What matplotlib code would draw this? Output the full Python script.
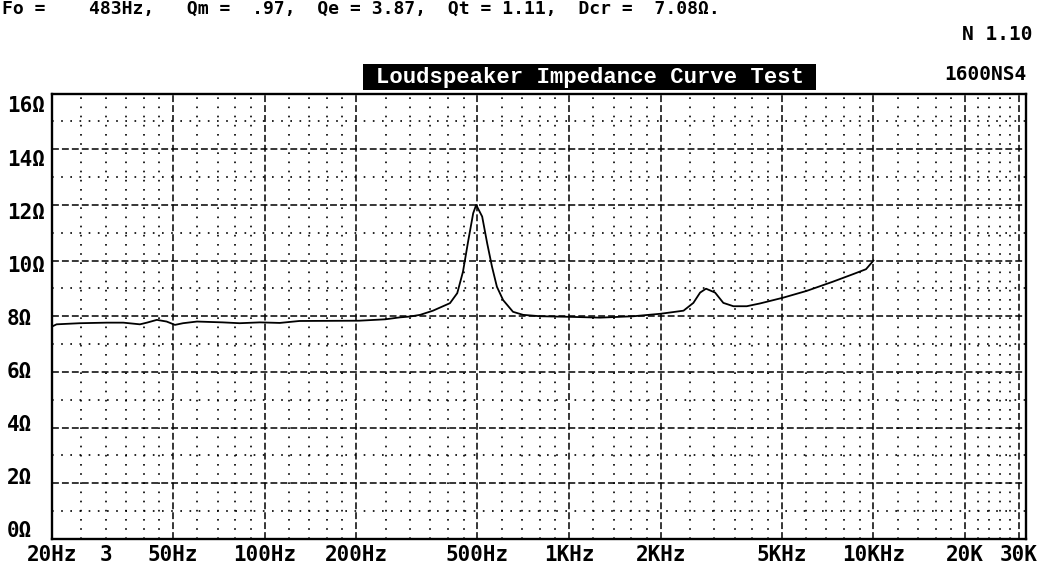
import matplotlib
matplotlib.use("Agg")
import matplotlib.pyplot as plt
from matplotlib.transforms import ScaledTranslation
from matplotlib.patches import Rectangle

# ---- data ----
freq_hz = [20, 20.7, 24.7, 30.3, 34.3, 38.9, 41, 44.2, 47.6, 50.7, 53.9, 59.9,
           72.7, 82.7, 96.5, 112, 130, 204, 249, 278, 300, 324, 357, 406, 429,
           448, 466, 484, 495, 518, 538, 558, 579, 607, 654, 706, 804, 1000,
           1264, 1626, 2000, 2376, 2560, 2694, 2817, 3017, 3211, 3466, 3833,
           4239, 5060, 6030, 7350, 8560, 9450, 10000]
impedance_ohm = [7.63, 7.71, 7.75, 7.77, 7.77, 7.71, 7.77, 7.87, 7.81, 7.69,
                 7.75, 7.81, 7.78, 7.75, 7.78, 7.76, 7.83, 7.84, 7.89, 7.96,
                 7.99, 8.05, 8.2, 8.47, 8.83, 9.6, 10.7, 11.7, 12.0, 11.58,
                 10.62, 9.78, 9.06, 8.58, 8.16, 8.05, 8.0, 7.98, 7.95, 8.0,
                 8.09, 8.2, 8.48, 8.85, 8.99, 8.85, 8.48, 8.36, 8.36, 8.46,
                 8.67, 8.91, 9.24, 9.51, 9.69, 10.0]

x_tick_values = [20, 30, 50, 100, 200, 500, 1000, 2000, 5000, 10000, 20000, 30000]
x_tick_labels = ["20Hz", "3", "50Hz", "100Hz", "200Hz", "500Hz", "1KHz",
                 "2KHz", "5KHz", "10KHz", "20K", "30K"]
y_tick_values = [0, 2, 4, 6, 8, 10, 12, 14, 16]
y_tick_labels = ["0Ω", "2Ω", "4Ω", "6Ω", "8Ω", "10Ω", "12Ω", "14Ω", "16Ω"]

x_major_grid = [50, 100, 200, 500, 1000, 2000, 5000, 10000, 20000, 30000]
x_minor_grid = [25, 30, 35, 40, 45, 60, 70, 80, 90, 120, 140, 160, 180,
                250, 300, 350, 400, 450, 600, 700, 800, 900,
                1200, 1400, 1600, 1800, 2500, 3000, 3500, 4000, 4500,
                6000, 7000, 8000, 9000, 12000, 14000, 16000, 18000,
                22000, 24000, 26000, 28000]
y_major_grid = [2, 4, 6, 8, 10, 12, 14]
y_minor_grid = [1, 3, 5, 7, 9, 11, 13, 15]

title_text = "Loudspeaker Impedance Curve Test"
model_text = "1600NS4"
version_text = "N 1.10"
params_text = "Fo =    483Hz,   Qm =  .97,  Qe = 3.87,  Qt = 1.11,  Dcr =  7.08Ω."

# ---- figure ----
W, H, DPI = 1050, 567, 100
fig = plt.figure(figsize=(W / DPI, H / DPI), dpi=DPI)
fig.patch.set_facecolor("white")

ax_l, ax_r, ax_t, ax_b = 52, 1026, 93.5, 539
ax = fig.add_axes([ax_l / W, 1 - ax_b / H, (ax_r - ax_l) / W, (ax_b - ax_t) / H])
ax.set_xscale("log")
ax.set_xlim(20, 31700)
ax.set_ylim(0, 16)

dash_major = (0, (4.5, 2.0))
dot_minor = (0, (1.0, 4.5))
for f in x_major_grid:
    ax.axvline(f, color="black", lw=1.1, linestyle=dash_major, zorder=1)
for f in x_minor_grid:
    ax.axvline(f, color="black", lw=1.2, linestyle=dot_minor, zorder=1)
for v in y_major_grid:
    ax.axhline(v, color="black", lw=1.1, linestyle=dash_major, zorder=1)
for v in y_minor_grid:
    ax.axhline(v, color="black", lw=1.2, linestyle=dot_minor, zorder=1)

ax.plot(freq_hz, impedance_ohm, color="black", lw=1.3, zorder=3)

for s in ax.spines.values():
    s.set_color("black")
    s.set_linewidth(1.7)

tick_font = dict(family="DejaVu Sans Mono", weight="bold", size=15)
ax.set_xticks(x_tick_values)
ax.set_xticklabels(x_tick_labels, **tick_font)
ax.minorticks_off()
ax.set_yticks(y_tick_values)
ax.set_yticklabels(y_tick_labels, **tick_font)
ax.tick_params(axis="x", length=0, pad=4)
ax.tick_params(axis="y", length=0, pad=0)

for lab, v in zip(ax.get_yticklabels(), y_tick_values):
    lab.set_horizontalalignment("left")
    dy_px = 11 - (16 - v) / 2 * 2.65
    lab.set_transform(lab.get_transform() +
                      ScaledTranslation(-(ax_l - 7) / DPI, -dy_px / DPI,
                                        fig.dpi_scale_trans))

# title box
bx0, bx1, by0, by1 = 363, 816, 64, 90
fig.patches.append(Rectangle((bx0 / W, 1 - by1 / H), (bx1 - bx0) / W,
                             (by1 - by0) / H, transform=fig.transFigure,
                             facecolor="black", edgecolor="none"))
fig.text((bx0 + bx1) / 2 / W, 1 - 77.5 / H, title_text, color="white",
         ha="center", va="center", family="Liberation Mono", weight="bold",
         size=16)
fig.text(1027 / W, 1 - 75 / H, model_text, ha="right", va="center",
         family="DejaVu Sans Mono", weight="bold", size=14)
fig.text(1033 / W, 1 - 35 / H, version_text, ha="right", va="center",
         family="DejaVu Sans Mono", weight="bold", size=14)
fig.text(2 / W, 1 - 14 / H, params_text, ha="left", va="baseline",
         family="DejaVu Sans Mono", weight="bold", size=13)

fig.savefig("out.png", dpi=DPI)
